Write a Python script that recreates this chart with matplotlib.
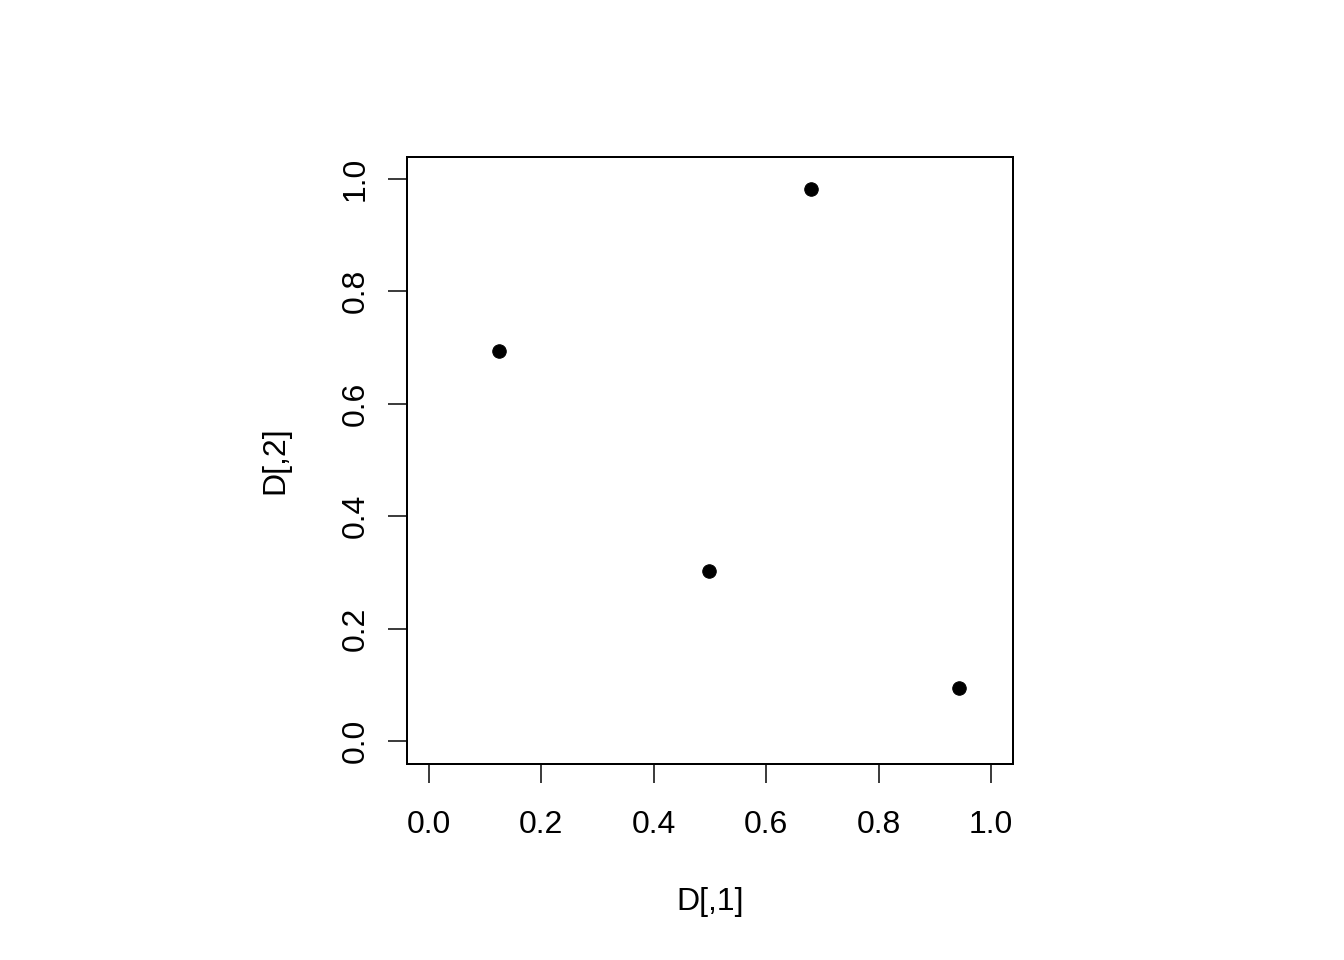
import matplotlib
matplotlib.use("Agg")
import matplotlib.pyplot as plt

x_vals = [0.1246, 0.498, 0.680, 0.943]
y_vals = [0.694, 0.3025, 0.982, 0.0943]
ticks = [0.0, 0.2, 0.4, 0.6, 0.8, 1.0]
tick_labels = ["0.0", "0.2", "0.4", "0.6", "0.8", "1.0"]

W, H = 1344, 960
DPI = 100
px = 72.0 / DPI  # points per pixel

plt.rcParams['font.family'] = ['Liberation Sans', 'DejaVu Sans']
fig = plt.figure(figsize=(W / DPI, H / DPI), dpi=DPI)
ax = fig.add_axes([407 / W, 1 - 764 / H, (1013 - 407) / W, (764 - 157) / H])

ax.plot(x_vals, y_vals, linestyle='none', marker='o', color='black',
        markersize=13.5 * px, markeredgewidth=1 * px)

ax.set_xlim(-0.0391, 1.0391)
ax.set_ylim(-0.0409, 1.039)
ax.set_xticks(ticks)
ax.set_xticklabels(tick_labels)
ax.set_yticks(ticks)
ax.set_yticklabels(tick_labels, rotation=90, va='center')
for s in ax.spines.values():
    s.set_linewidth(2 * px)
ax.tick_params(axis='both', length=19 * px, width=1.5 * px, direction='out',
               labelsize=32 * px, color='black')
ax.tick_params(axis='x', pad=27 * px)
ax.tick_params(axis='y', pad=17 * px)

fig.text(710 / W, 1 - 902 / H, "D[,1]", ha='center', va='center', fontsize=32 * px)
fig.text(275 / W, 1 - 460 / H, "D[,2]", ha='center', va='center', fontsize=32 * px,
         rotation=90)

fig.savefig("out.png", dpi=DPI)
